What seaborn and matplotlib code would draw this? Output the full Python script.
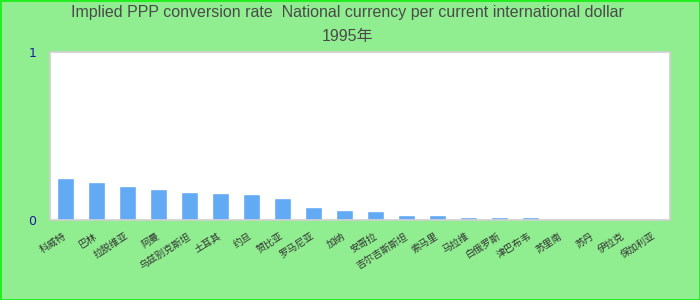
import matplotlib
matplotlib.use("Agg")
import matplotlib.pyplot as plt
import seaborn as sns
import pandas as pd

countries = ["科威特", "巴林", "拉脱维亚", "阿曼", "乌兹别克斯坦", "土耳其", "约旦", "赞比亚",
             "罗马尼亚", "加纳", "安哥拉", "吉尔吉斯斯坦", "索马里", "马拉维", "白俄罗斯",
             "津巴布韦", "苏里南", "苏丹", "伊拉克", "保加利亚"]
values = [0.25, 0.226, 0.202, 0.184, 0.166, 0.16, 0.154, 0.131, 0.077, 0.059,
          0.053, 0.03, 0.03, 0.018, 0.018, 0.018, 0, 0, 0, 0]
y_ticks = [0, 1]
y_tick_labels = ["0", "1"]
title_text = "Implied PPP conversion rate  National currency per current international dollar\n1995年"

sns.set_theme(style="white")
plt.rcParams['font.family'] = ['Liberation Sans', 'Noto Sans CJK SC', 'DejaVu Sans']

df = pd.DataFrame({"country": countries, "value": values})

fig = plt.figure(figsize=(7, 3), dpi=100, facecolor="#90ee90",
                 edgecolor="#22ee22", linewidth=2)
ax = fig.add_axes([50/700, 80/300, 620/700, 168.3/300])
ax.set_facecolor("white")

sns.barplot(data=df, x="country", y="value", color="#62aaf4", saturation=1,
            width=0.55, ax=ax)

ax.set_ylim(0, 1)
ax.set_xlim(-0.5, len(countries) - 0.5)
ax.set_yticks(y_ticks)
ax.set_yticklabels(y_tick_labels, color="#1c1ca0", fontsize=9,
                   family=['DejaVu Sans'])
ax.tick_params(axis="y", length=0, pad=10)
ax.tick_params(axis="x", length=0, pad=11)
for lab in ax.get_xticklabels():
    lab.set_rotation(32)
    lab.set_ha("right")
    lab.set_va("center")
    lab.set_rotation_mode("anchor")
    lab.set_fontsize(7)
    lab.set_color("#333333")
    lab.set_family(['Noto Sans CJK SC', 'DejaVu Sans'])
ax.set_xlabel("")
ax.set_ylabel("")
for s in ax.spines.values():
    s.set_color("#d0d0d0")
    s.set_linewidth(1.2)

fig.text(0.497, 0.982, title_text, ha="center", va="top", fontsize=11.5,
         color="#4a4a4a", linespacing=1.75,
         family=['Liberation Sans', 'Noto Sans CJK SC', 'DejaVu Sans'])

fig.savefig("out.png", dpi=100, facecolor=fig.get_facecolor(),
            edgecolor=fig.get_edgecolor())
